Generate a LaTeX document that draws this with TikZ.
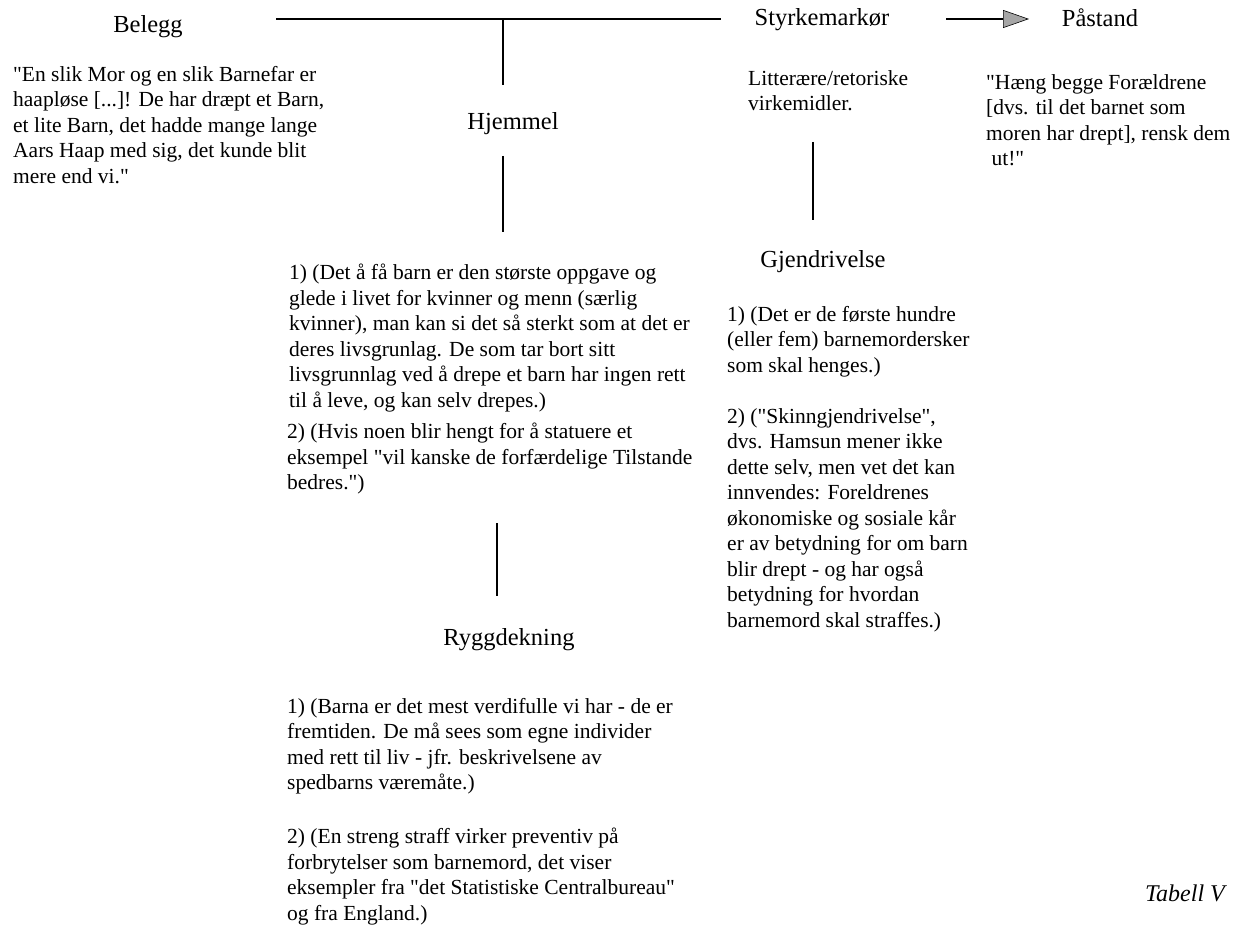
\documentclass[tikz,border=0pt]{standalone}
\usepackage{fontspec}
\setmainfont{Liberation Serif}[Ligatures=TeXOff]
\usetikzlibrary{arrows.meta}
\tikzset{
  head/.style={font=\fontsize{24.5}{29}\selectfont, inner sep=0pt, anchor=base},
  bodytext/.style={font=\fontsize{21.5}{25.5}\selectfont, align=left, inner sep=0pt, anchor=north west},
  conn/.style={line width=1.7pt, black},
  arr/.style={line width=1.8pt, -{Triangle[length=26pt, width=18pt, fill=gray!70, line width=0.6pt]}}
}
\begin{document}
\begin{tikzpicture}[x=1pt, y=-1pt]
\useasboundingbox (0,0) rectangle (1237,928);
% headings
\node[head] (belegg) at (148,33) {Belegg};
\node[head] (sty) at (822,26) {Styrkemarkør};
\node[head] (pas) at (1100,27) {Påstand};
\node[head] (hjem) at (513,130) {Hjemmel};
\node[head] (gjen) at (823,268) {Gjendrivelse};
\node[head] (rygg) at (509,645) {Ryggdekning};
% texts
\node[bodytext] (beleggtxt) at (13,66) {"En slik Mor og en slik Barnefar er\\haapløse [...]! De har dræpt et Barn,\\et lite Barn, det hadde mange lange\\Aars Haap med sig, det kunde blit\\mere end vi."};
\node[bodytext] (littxt) at (748,70) {Litterære/retoriske\\virkemidler.};
\node[bodytext] (pastxt) at (986,74) {"Hæng begge Forældrene\\{[}dvs. til det barnet som\\moren har drept], rensk dem\\\ ut!"};
\node[bodytext] (hjemtxta) at (289,264) {1) (Det å få barn er den største oppgave og\\glede i livet for kvinner og menn (særlig\\kvinner), man kan si det så sterkt som at det er\\deres livsgrunlag. De som tar bort sitt\\livsgrunnlag ved å drepe et barn har ingen rett\\til å leve, og kan selv drepes.)};
\node[bodytext] (hjemtxtb) at (287,423) {2) (Hvis noen blir hengt for å statuere et\\eksempel "vil kanske de forfærdelige Tilstande\\bedres.")};
\node[bodytext] (gjentxta) at (727,306) {1) (Det er de første hundre\\(eller fem) barnemordersker\\som skal henges.)};
\node[bodytext] (gjentxtb) at (727,408) {2) ("Skinngjendrivelse",\\dvs. Hamsun mener ikke\\dette selv, men vet det kan\\innvendes: Foreldrenes\\økonomiske og sosiale kår\\er av betydning for om barn\\blir drept - og har også\\betydning for hvordan\\barnemord skal straffes.)};
\node[bodytext] (ryggtxta) at (287,698) {1) (Barna er det mest verdifulle vi har - de er\\fremtiden. De må sees som egne individer\\med rett til liv - jfr. beskrivelsene av\\spedbarns væremåte.)};
\node[bodytext] (ryggtxtb) at (287,828) {2) (En streng straff virker preventiv på\\forbrytelser som barnemord, det viser\\eksempler fra "det Statistiske Centralbureau"\\og fra England.)};
\node[font=\fontsize{24}{28}\selectfont\itshape, inner sep=0pt, anchor=base east] (tab) at (1225,901) {Tabell V};
% connectors
\coordinate (tl) at (276,19);
\coordinate (tr) at (721,19);
\coordinate (j1) at (503,19);
\coordinate (v1b) at (503,85);
\coordinate (v2t) at (503,156);
\coordinate (v2b) at (503,232);
\coordinate (v3t) at (813,142);
\coordinate (v3b) at (813,220);
\coordinate (v4t) at (497,523);
\coordinate (v4b) at (497,596);
\coordinate (a0) at (946,19);
\coordinate (a1) at (1029,19);
\draw[conn] (tl) -- (tr);
\draw[conn] (j1) -- (v1b);
\draw[conn] (v2t) -- (v2b);
\draw[conn] (v3t) -- (v3b);
\draw[conn] (v4t) -- (v4b);
\draw[arr] (a0) -- (a1);
\end{tikzpicture}
\end{document}
